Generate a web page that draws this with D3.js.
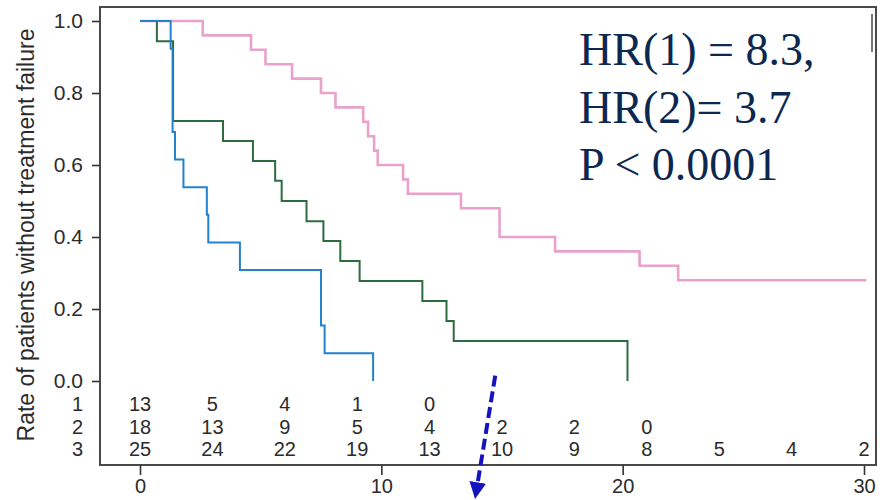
<!DOCTYPE html>
<html>
<head>
<meta charset="utf-8">
<script src="https://cdn.jsdelivr.net/npm/d3@7"></script>
<style>
  html, body { margin: 0; padding: 0; background: #fff; }
  svg { display: block; }
  .tick text, .risk, .axis-title { font-family: "Liberation Sans", Arial, sans-serif; fill: #2b2b2b; }
  .hr { font-family: "Liberation Serif", "Times New Roman", serif; fill: #0c2850; }
</style>
</head>
<body>
<div id="chart"></div>
<script>
// Kaplan-Meier steps (time in months, survival fraction)
const blueTimes = [0, 1.27, 1.35, 1.45, 1.8, 2.77, 2.83, 4.14, 7.5, 7.65, 9.66];
const blueSurv = [1, 0.923, 0.692, 0.615, 0.538, 0.462, 0.385, 0.308, 0.154, 0.077, 0];

const greenTimes = [0, 0.7, 1.37, 3.44, 4.68, 5.6, 5.87, 6.9, 7.6, 8.3, 9.1, 11.7, 12.7, 13.0, 20.2];
const greenSurv = [1, 0.944, 0.722, 0.667, 0.611, 0.556, 0.5, 0.444, 0.389, 0.333, 0.278, 0.222, 0.167, 0.111, 0];

const pinkTimes = [0, 2.6, 4.6, 5.2, 6.3, 7.5, 8.1, 9.25, 9.45, 9.7, 9.85, 10.9, 11.1, 13.3, 14.9, 17.2, 20.7, 22.3, 30.1];
const pinkSurv = [1, 0.96, 0.92, 0.88, 0.84, 0.8, 0.76, 0.72, 0.68, 0.64, 0.6, 0.56, 0.52, 0.48, 0.4, 0.36, 0.32, 0.28, 0.28];

// number at risk table
const riskTimes = [0, 3, 6, 9, 12, 15, 18, 21, 24, 27, 30];
const riskGroups = ["1", "2", "3"];
const risk1 = [13, 5, 4, 1, 0];
const risk2 = [18, 13, 9, 5, 4, 2, 2, 0];
const risk3 = [25, 24, 22, 19, 13, 10, 9, 8, 5, 4, 2];

const yTicks = [0, 0.2, 0.4, 0.6, 0.8, 1.0];
const xTicks = [0, 10, 20, 30];
const statLines = ["HR(1) = 8.3,", "HR(2)= 3.7", "P < 0.0001"];

const width = 885;
const height = 500;
const box = { left: 100, top: 7, right: 876, bottom: 465 };

const svg = d3.select("#chart").append("svg")
  .attr("width", width)
  .attr("height", height);

const x = d3.scaleLinear().domain([0, 30]).range([140, 864]);
const y = d3.scaleLinear().domain([0, 1]).range([381, 21]);

// frame
svg.append("rect")
  .attr("x", box.left)
  .attr("y", box.top)
  .attr("width", box.right - box.left)
  .attr("height", box.bottom - box.top)
  .attr("fill", "none")
  .attr("stroke", "#4a4a4a")
  .attr("stroke-width", 2);

// small mark in the top right corner
svg.append("line")
  .attr("x1", 872).attr("x2", 872)
  .attr("y1", 14).attr("y2", 52)
  .attr("stroke", "#555")
  .attr("stroke-width", 1.6);

// y axis
const yAxis = svg.append("g")
  .attr("transform", `translate(${box.left},0)`)
  .call(d3.axisLeft(y).tickValues(yTicks).tickFormat(d3.format(".1f")).tickSize(8).tickPadding(9));
yAxis.select(".domain").remove();
yAxis.selectAll(".tick line").attr("stroke", "#333").attr("stroke-width", 1.6);
yAxis.selectAll(".tick text").style("font-size", "21px");

// x axis
const xAxis = svg.append("g")
  .attr("transform", `translate(0,${box.bottom})`)
  .call(d3.axisBottom(x).tickValues(xTicks).tickSize(10).tickPadding(4));
xAxis.select(".domain").remove();
xAxis.selectAll(".tick line").attr("stroke", "#333").attr("stroke-width", 1.6);
xAxis.selectAll(".tick text").style("font-size", "20px");

// y axis title
svg.append("text")
  .attr("class", "axis-title")
  .attr("transform", `translate(34,235) rotate(-90)`)
  .attr("text-anchor", "middle")
  .style("font-size", "23px")
  .text("Rate of patients without treatment failure");

// curves
const line = d3.line()
  .x(d => x(d[0]))
  .y(d => y(d[1]))
  .curve(d3.curveStepAfter);

const curves = [
  { times: pinkTimes, surv: pinkSurv, color: "#e8a2cb", width: 2.6 },
  { times: greenTimes, surv: greenSurv, color: "#2f6b40", width: 2 },
  { times: blueTimes, surv: blueSurv, color: "#2481cc", width: 2 },
];

svg.append("g")
  .selectAll("path")
  .data(curves)
  .enter()
  .append("path")
  .attr("d", c => line(c.times.map((t, i) => [t, c.surv[i]])))
  .attr("fill", "none")
  .attr("stroke", c => c.color)
  .attr("stroke-width", c => c.width);

// number at risk rows
const riskRows = [risk1, risk2, risk3];
const rowY = [404, 426.5, 449];

svg.append("g")
  .selectAll("text")
  .data(riskGroups)
  .enter()
  .append("text")
  .attr("class", "risk")
  .attr("x", 83)
  .attr("y", (d, i) => rowY[i])
  .attr("dy", "0.36em")
  .attr("text-anchor", "end")
  .style("font-size", "20px")
  .text(d => d);

riskRows.forEach((row, r) => {
  svg.append("g")
    .selectAll("text")
    .data(row)
    .enter()
    .append("text")
    .attr("class", "risk")
    .attr("x", (d, i) => x(riskTimes[i]))
    .attr("y", rowY[r])
    .attr("dy", "0.36em")
    .attr("text-anchor", "middle")
    .style("font-size", "20px")
    .text(d => d);
});

// hazard ratio text
svg.append("g")
  .selectAll("text")
  .data(statLines)
  .enter()
  .append("text")
  .attr("class", "hr")
  .attr("x", 579)
  .attr("y", (d, i) => 65 + i * 57.5)
  .style("font-size", "46px")
  .text(d => d);

// dashed arrow
svg.append("defs").append("marker")
  .attr("id", "arrowhead")
  .attr("viewBox", "0 0 10 10")
  .attr("refX", 4)
  .attr("refY", 5)
  .attr("markerWidth", 4.2)
  .attr("markerHeight", 4.2)
  .attr("orient", "auto")
  .append("path")
  .attr("d", "M0,0 L10,5 L0,10 Z")
  .attr("fill", "#1414bf");

svg.append("line")
  .attr("x1", x(14.72))
  .attr("y1", y(0.015))
  .attr("x2", x(13.95))
  .attr("y2", y(-0.3))
  .attr("stroke", "#1414bf")
  .attr("stroke-width", 4)
  .attr("stroke-dasharray", "11,5")
  .attr("marker-end", "url(#arrowhead)");
</script>
</body>
</html>
